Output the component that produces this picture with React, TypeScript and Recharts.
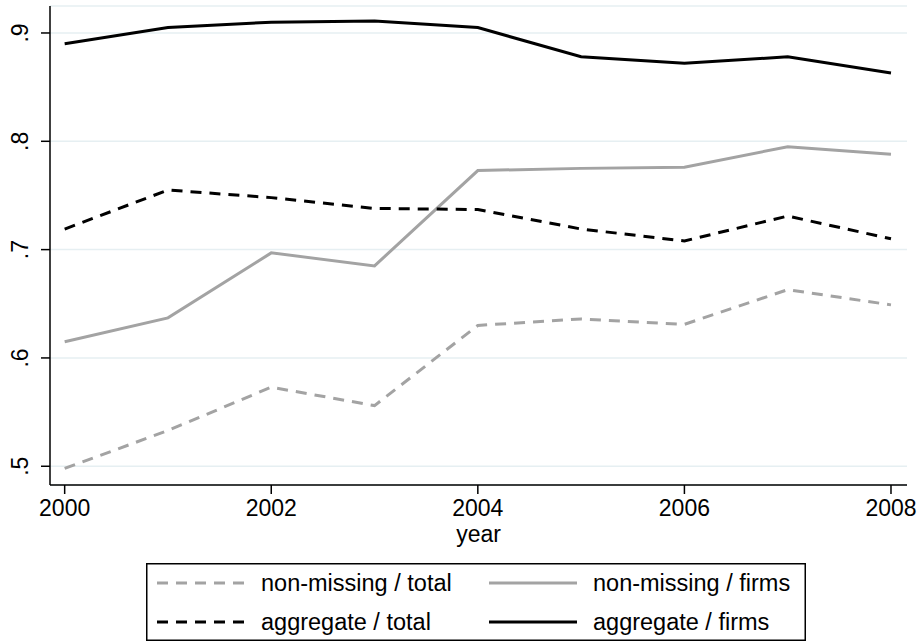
import { LineChart, Line, XAxis, YAxis, CartesianGrid } from "recharts";

const years = [2000, 2001, 2002, 2003, 2004, 2005, 2006, 2007, 2008];
const nonMissingTotal = [0.498, 0.533, 0.573, 0.556, 0.63, 0.636, 0.631, 0.663, 0.649];
const nonMissingFirms = [0.615, 0.637, 0.697, 0.685, 0.773, 0.775, 0.776, 0.795, 0.788];
const aggregateTotal = [0.719, 0.755, 0.748, 0.738, 0.737, 0.719, 0.708, 0.731, 0.71];
const aggregateFirms = [0.89, 0.905, 0.91, 0.911, 0.905, 0.878, 0.872, 0.878, 0.863];
const xTicks = [2000, 2002, 2004, 2006, 2008];
const yTicks = [0.5, 0.6, 0.7, 0.8, 0.9];

const data = years.map((year, i) => ({
  year,
  nmTotal: nonMissingTotal[i],
  nmFirms: nonMissingFirms[i],
  aggTotal: aggregateTotal[i],
  aggFirms: aggregateFirms[i],
}));

const FONT = "'Liberation Sans', Arial, Helvetica, sans-serif";
const GRAY = "#a3a3a3";
const DASH = "11 8";
const FS = 23;

// stata style: ".5" instead of "0.5"
const fmtY = (v: number) => v.toFixed(1).replace(/^0/, "");

// rotated y tick labels
function YTick({ x, y, payload }: any) {
  const bx = x - 11;
  return (
    <text
      x={bx}
      y={y}
      transform={`rotate(-90, ${bx}, ${y})`}
      textAnchor="middle"
      fontSize={FS}
      fontFamily={FONT}
      fill="#000"
    >
      {fmtY(payload.value)}
    </text>
  );
}

const legendItems = [
  { label: "non-missing / total", color: GRAY, dash: DASH, col: 0, row: 0 },
  { label: "non-missing / firms", color: GRAY, dash: undefined, col: 1, row: 0 },
  { label: "aggregate / total", color: "#000", dash: DASH, col: 0, row: 1 },
  { label: "aggregate / firms", color: "#000", dash: undefined, col: 1, row: 1 },
];

function StataLegend() {
  const colX = [11, 343];
  const rowY = [20, 59];
  return (
    <svg
      width={660}
      height={78}
      style={{ position: "absolute", left: 146, top: 563 }}
    >
      <rect x={0.75} y={0.75} width={658.5} height={76.5} fill="#fff" stroke="#000" strokeWidth={1.5} />
      {legendItems.map((it) => (
        <g key={it.label}>
          <line
            x1={colX[it.col]}
            x2={colX[it.col] + 88}
            y1={rowY[it.row]}
            y2={rowY[it.row]}
            stroke={it.color}
            strokeWidth={3}
            strokeDasharray={it.dash}
          />
          <text
            x={colX[it.col] + 104}
            y={rowY[it.row]}
            dy="0.35em"
            fontSize={23.5}
            fontFamily={FONT}
            fill="#000"
          >
            {it.label}
          </text>
        </g>
      ))}
    </svg>
  );
}

export default function App() {
  return (
    <div style={{ position: "absolute", left: 0, top: 0, width: 920, height: 642, background: "#fff" }}>
      <LineChart
        width={920}
        height={642}
        data={data}
        margin={{ top: 6, right: 13, left: 0, bottom: 100 }}
      >
        <CartesianGrid vertical={false} stroke="#e6eff2" strokeWidth={1.5} />
        <XAxis
          dataKey="year"
          type="number"
          domain={[1999.858, 2008.155]}
          ticks={xTicks}
          allowDataOverflow
          height={57}
          tickSize={9}
          tickMargin={6}
          axisLine={{ stroke: "#000", strokeWidth: 1.5 }}
          tickLine={{ stroke: "#000", strokeWidth: 1.5 }}
          tick={{ fontSize: FS, fill: "#000", fontFamily: FONT }}
          label={{ value: "year", position: "insideBottom", offset: 0, fontSize: FS, fill: "#000", fontFamily: FONT }}
        />
        <YAxis
          type="number"
          domain={[0.4827, 0.9249]}
          ticks={yTicks}
          allowDataOverflow
          width={50}
          tickSize={9}
          axisLine={{ stroke: "#000", strokeWidth: 1.5 }}
          tickLine={{ stroke: "#000", strokeWidth: 1.5 }}
          tick={<YTick />}
        />
        <Line dataKey="nmTotal" stroke={GRAY} strokeWidth={3} strokeDasharray={DASH} dot={false} isAnimationActive={false} />
        <Line dataKey="nmFirms" stroke={GRAY} strokeWidth={3} dot={false} isAnimationActive={false} />
        <Line dataKey="aggTotal" stroke="#000" strokeWidth={3} strokeDasharray={DASH} dot={false} isAnimationActive={false} />
        <Line dataKey="aggFirms" stroke="#000" strokeWidth={3} dot={false} isAnimationActive={false} />
      </LineChart>
      <StataLegend />
    </div>
  );
}
